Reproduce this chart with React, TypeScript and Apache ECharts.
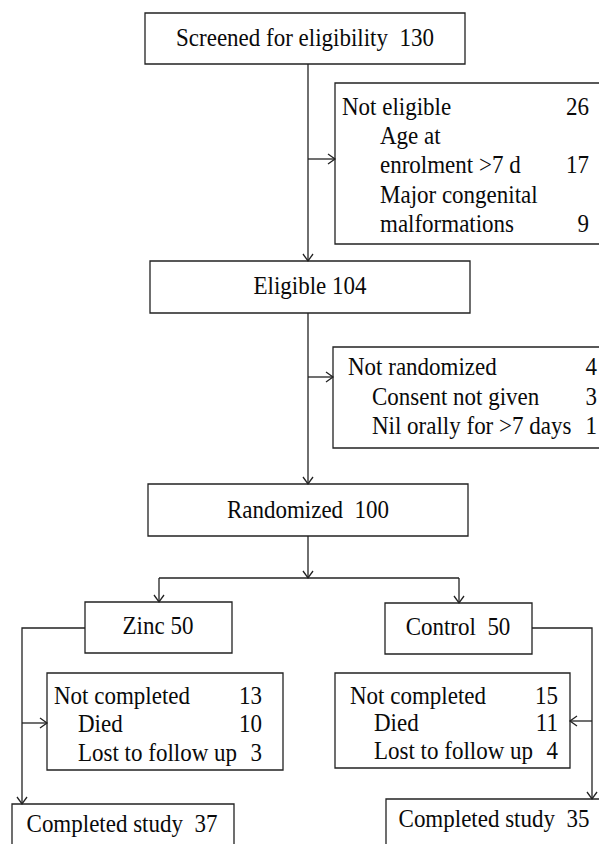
import React, { useEffect, useRef } from "react";
import * as echarts from "echarts";

// ---- data ----
const stageLabels = ["Screened for eligibility", "Eligible", "Randomized"];
const stageCounts = [130, 104, 100];
const armLabels = ["Zinc", "Control"];
const armCounts = [50, 50];
const completedLabel = "Completed study";
const completedCounts = [37, 35];
const notEligibleLabels = ["Not eligible", "Age at\nenrolment >7 d", "Major congenital\nmalformations"];
const notEligibleCounts = [26, 17, 9];
const notRandomizedLabels = ["Not randomized", "Consent not given", "Nil orally for >7 days"];
const notRandomizedCounts = [4, 3, 1];
const notCompletedLabels = ["Not completed", "Died", "Lost to follow up"];
const zincNotCompleted = [13, 10, 3];
const controlNotCompleted = [15, 11, 4];

const FONT = "Liberation Serif";
const FS = 23;
const STROKE = "#222";
const LW = 1.3;

type Row = { text: string; indent: boolean; num: number | null };
function buildRows(labels: string[], counts: number[]): Row[] {
  const rows: Row[] = [];
  labels.forEach((lab, i) => {
    const parts = lab.split("\n");
    parts.forEach((p, j) => {
      rows.push({ text: p, indent: i > 0, num: j === parts.length - 1 ? counts[i] : null });
    });
  });
  return rows;
}

function rect(x: number, y: number, w: number, h: number) {
  return {
    type: "rect",
    shape: { x, y, width: w, height: h },
    style: { fill: "#fff", stroke: STROKE, lineWidth: LW },
    z: 1,
  };
}
function text(x: number, y: number, t: string, align: string = "center") {
  return {
    type: "text",
    x,
    y,
    scaleY: 1.08,
    z: 3,
    style: {
      text: t,
      font: `${FS}px ${FONT}`,
      fontSize: FS,
      fontFamily: FONT,
      fill: "#0a0a0a",
      textAlign: align,
      textVerticalAlign: "middle",
    },
  };
}
function poly(points: number[][]) {
  return {
    type: "polyline",
    shape: { points },
    style: { stroke: STROKE, lineWidth: LW, fill: null },
    z: 2,
  };
}
function arrowHead(x: number, y: number, dir: "down" | "right" | "left") {
  const L = 7, W = 5;
  if (dir === "down") return poly([[x - W, y - L], [x, y], [x + W, y - L]]);
  if (dir === "right") return poly([[x - L, y - W], [x, y], [x - L, y + W]]);
  return poly([[x + L, y - W], [x, y], [x + L, y + W]]);
}

function listBox(
  bx: number, by: number, bw: number, bh: number,
  rows: Row[], headX: number, indX: number, numX: number, rowYs: number[]
) {
  const els: any[] = [rect(bx, by, bw, bh)];
  rows.forEach((r, i) => {
    els.push(text(r.indent ? indX : headX, rowYs[i], r.text, "left"));
    if (r.num !== null) els.push(text(numX, rowYs[i], String(r.num), "right"));
  });
  return els;
}

export default function App() {
  const ref = useRef<HTMLDivElement>(null);
  useEffect(() => {
    document.body.style.margin = "0";
    const chart = echarts.init(ref.current!, null, { renderer: "svg" });
    const cx = 308;
    const els: any[] = [];

    // main stage boxes
    els.push(rect(145, 13, 320, 51), text(305, 38, `${stageLabels[0]}  ${stageCounts[0]}`));
    els.push(rect(150, 261, 320, 52), text(310, 286, `${stageLabels[1]} ${stageCounts[1]}`));
    els.push(rect(148, 484, 320, 52), text(308, 510, `${stageLabels[2]}  ${stageCounts[2]}`));

    // arm boxes
    els.push(rect(85, 602, 147, 51), text(158, 626, `${armLabels[0]} ${armCounts[0]}`));
    els.push(rect(385, 603, 147, 51), text(458, 627, `${armLabels[1]}  ${armCounts[1]}`));

    // completed boxes
    els.push(rect(12, 804, 222, 60), text(122, 824, `${completedLabel}  ${completedCounts[0]}`));
    els.push(rect(386, 799, 230, 60), text(494, 819, `${completedLabel}  ${completedCounts[1]}`));

    // exclusion boxes
    els.push(...listBox(335, 83, 280, 161, buildRows(notEligibleLabels, notEligibleCounts),
      342, 380, 589, [107, 136, 165, 195, 224]));
    els.push(...listBox(333, 347, 280, 101, buildRows(notRandomizedLabels, notRandomizedCounts),
      348, 372, 597, [367, 397, 426]));
    els.push(...listBox(47, 673, 236, 97, buildRows(notCompletedLabels, zincNotCompleted),
      54, 78, 262, [696, 724, 753]));
    els.push(...listBox(335, 673, 235, 95, buildRows(notCompletedLabels, controlNotCompleted),
      350, 374, 558, [696, 723, 751]));

    // connectors
    els.push(poly([[cx, 64], [cx, 261]]), arrowHead(cx, 261, "down"));
    els.push(poly([[cx, 159], [335, 159]]), arrowHead(335, 159, "right"));
    els.push(poly([[cx, 313], [cx, 484]]), arrowHead(cx, 484, "down"));
    els.push(poly([[cx, 377], [333, 377]]), arrowHead(333, 377, "right"));
    els.push(poly([[cx, 536], [cx, 578]]), arrowHead(cx, 578, "down"));
    els.push(poly([[159, 578], [459, 578]]));
    els.push(poly([[159, 578], [159, 602]]), arrowHead(159, 602, "down"));
    els.push(poly([[459, 578], [459, 603]]), arrowHead(459, 603, "down"));
    els.push(poly([[85, 628], [22, 628], [22, 804]]), arrowHead(22, 804, "down"));
    els.push(poly([[22, 723], [47, 723]]), arrowHead(47, 723, "right"));
    els.push(poly([[532, 628], [592, 628], [592, 799]]), arrowHead(592, 799, "down"));
    els.push(poly([[592, 721], [570, 721]]), arrowHead(570, 721, "left"));

    chart.setOption({
      animation: false,
      backgroundColor: "#fff",
      graphic: { elements: els },
    });
    return () => chart.dispose();
  }, []);
  return <div ref={ref} style={{ width: 599, height: 844 }} />;
}
